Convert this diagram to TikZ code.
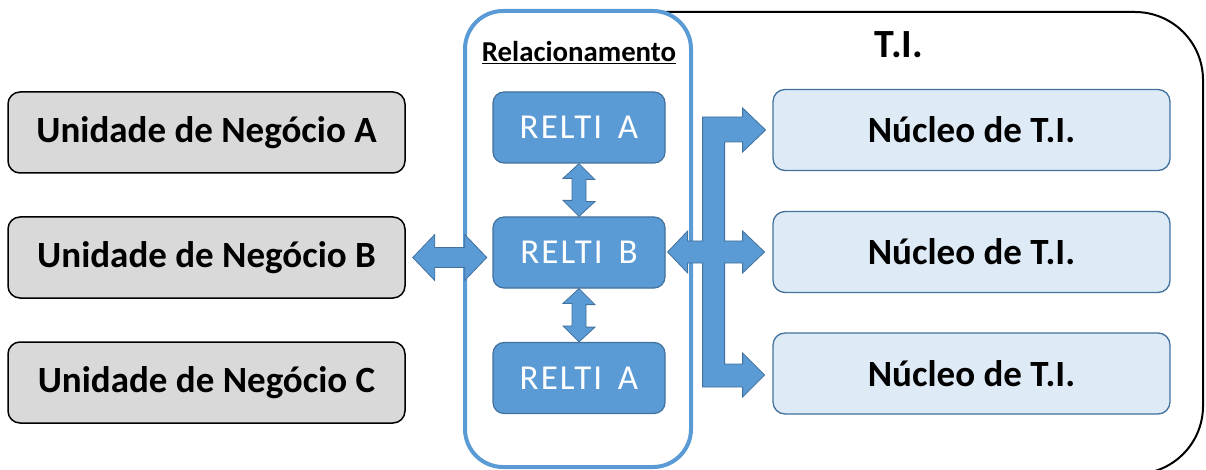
\documentclass[tikz,border=0pt]{standalone}
\usepackage{fontspec}
\setmainfont{Carlito}
\newfontfamily\relfont[LetterSpace=6]{Carlito}
\usetikzlibrary{calc}
\definecolor{bluefill}{HTML}{5B9BD5}
\definecolor{blueedge}{HTML}{41719C}
\definecolor{grayfill}{HTML}{D9D9D9}
\definecolor{lightblue}{HTML}{DEEBF7}
\tikzset{
  unitbox/.style={draw=black, line width=1.5pt, fill=grayfill, rounded corners=12pt,
    minimum width=397pt, minimum height=81pt, inner sep=0pt,
    font=\fontsize{37}{40}\selectfont\bfseries},
  relbox/.style={draw=blueedge, line width=1.2pt, fill=bluefill, rounded corners=11pt,
    minimum width=172pt, minimum height=71pt, inner sep=0pt, text=white,
    font=\fontsize{35}{38}\relfont},
  corebox/.style={draw=blueedge, line width=1.3pt, fill=lightblue, rounded corners=12pt,
    minimum width=397pt, minimum height=81pt, inner sep=0pt,
    font=\fontsize{37}{40}\selectfont\bfseries},
  blockarrow/.style={fill=bluefill, draw=blueedge, line width=0.8pt, line join=miter},
}
\begin{document}
\begin{tikzpicture}[x=1pt, y=-1pt]
\useasboundingbox (0,0) rectangle (1206,470);
% T.I. outer frame (left side hidden behind the Relacionamento frame)
\draw[line width=2pt] (600,12) [rounded corners=68pt] -- (1203,12) -- (1203,474) [sharp corners] -- (600,474);
\node[font=\fontsize{40}{44}\selectfont\bfseries] (ti) at (899,45) {T.I.};
% Relacionamento frame
\node[draw=bluefill, line width=4pt, fill=white, rounded corners=38pt,
  minimum width=226pt, minimum height=456pt, inner sep=0pt] (relframe) at (578,239) {};
\node[font=\fontsize{28.8}{31}\selectfont\bfseries] (reltitle) at (579,53) {\underline{Relacionamento}};
% business units
\node[unitbox] (uA) at (206.5,132.5) {Unidade de Negócio A};
\node[unitbox] (uB) at (206.5,257.5) {Unidade de Negócio B};
\node[unitbox] (uC) at (206.5,382.5) {Unidade de Negócio C};
% relationship boxes
\node[relbox] (rA) at (579,127.5) {RELTI\hspace{0.45em}A};
\node[relbox] (rB) at (579,252.5) {RELTI\hspace{0.45em}B};
\node[relbox] (rC) at (579,378) {RELTI\hspace{0.45em}A};
% IT cores
\node[corebox] (nA) at (971.5,130) {Núcleo de T.I.};
\node[corebox] (nB) at (971.5,252) {Núcleo de T.I.};
\node[corebox] (nC) at (971.5,373.5) {Núcleo de T.I.};
% vertical double arrows
\draw[blockarrow] (rA.south) -- ++(16,16) -- ++(-9,0) -- ++(0,22) -- ++(9,0) -- (rB.north)
  -- ++(-16,-16) -- ++(9,0) -- ++(0,-22) -- ++(-9,0) -- cycle;
\draw[blockarrow] (rB.south) -- ++(16,16) -- ++(-9,0) -- ++(0,22.5) -- ++(9,0) -- (rC.north)
  -- ++(-16,-16) -- ++(9,0) -- ++(0,-22.5) -- ++(-9,0) -- cycle;
% horizontal double arrow unit B <-> RELTI B
\coordinate (lb) at ($(uB.east)+(7,0)$);
\draw[blockarrow] (lb) -- ++(22,-23) -- ++(0,13) -- ++(30,0) -- ++(0,-13) -- ++(22,23)
  -- ++(-22,23) -- ++(0,-13) -- ++(-30,0) -- ++(0,13) -- cycle;
% branching arrow RELTI B <-> IT cores
\coordinate (rt) at ($(rB.east)+(2,-0.5)$);
\draw[blockarrow] (rt) -- ++(20,-21) -- ++(0,10) -- ++(15,0) -- ++(0,-124) -- ++(40,0)
  -- ++(0,-9) -- ++(23,22) -- ++(-23,22) -- ++(0,-10) -- ++(-18,0) -- ++(0,99)
  -- ++(18,0) -- ++(0,-10) -- ++(22,21) -- ++(-22,21) -- ++(0,-10) -- ++(-18,0)
  -- ++(0,101) -- ++(18,0) -- ++(0,-11) -- ++(22,22) -- ++(-22,22) -- ++(0,-10)
  -- ++(-40,0) -- ++(0,-124) -- ++(-15,0) -- ++(0,10) -- cycle;
\end{tikzpicture}
\end{document}
